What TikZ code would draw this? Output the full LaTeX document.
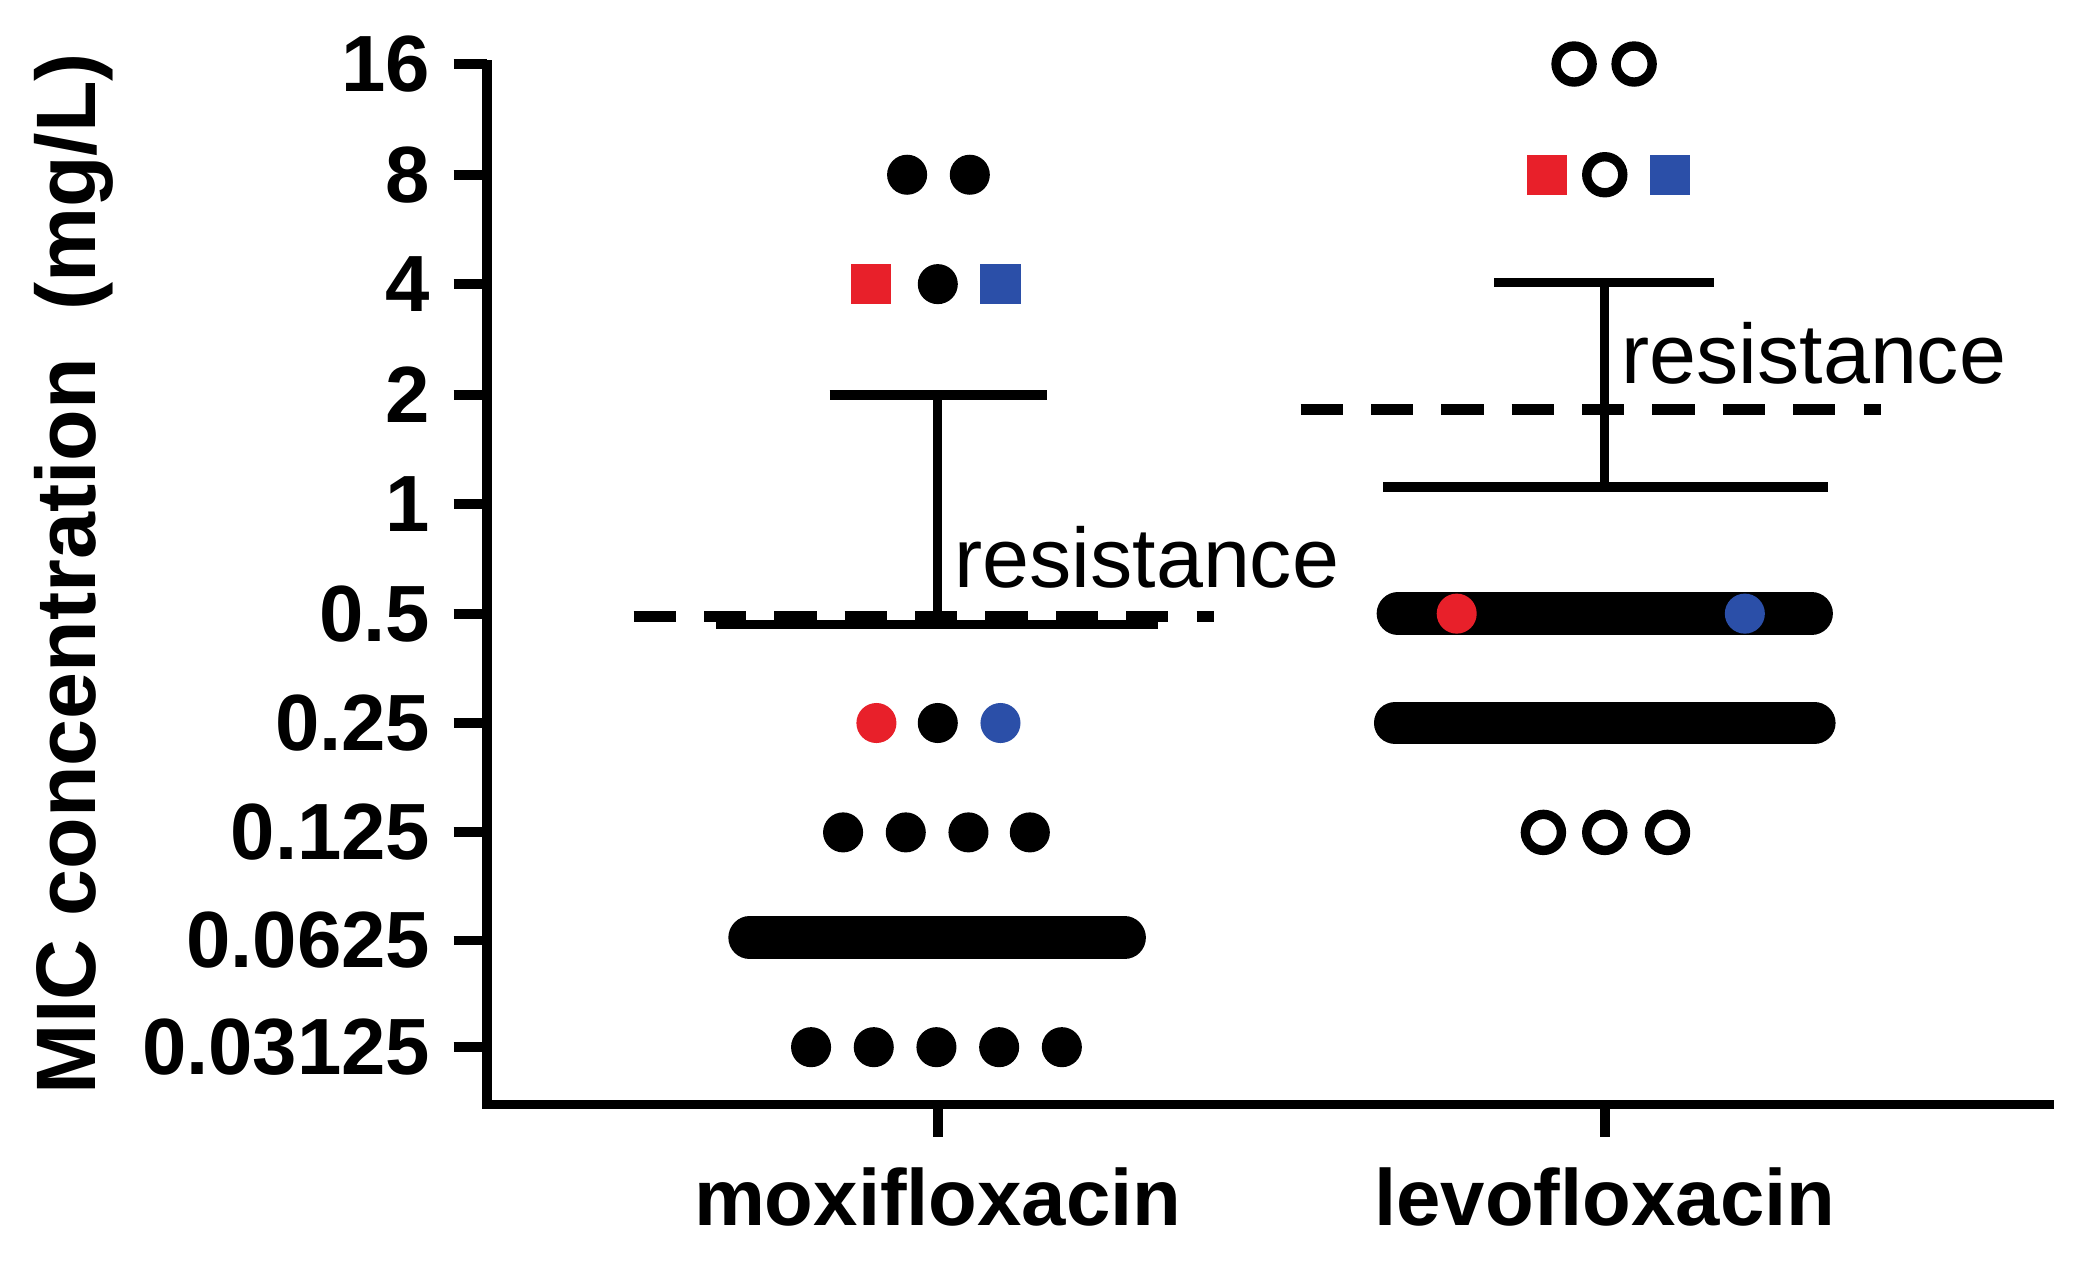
\documentclass[tikz,border=0pt]{standalone}
\usepackage{fontspec}
\setmainfont{Liberation Sans}
\definecolor{rd}{HTML}{E8202A}
\definecolor{bl}{HTML}{2B4FA8}
\begin{document}
\begin{tikzpicture}[x=0.01cm,y=-0.01cm,
  ax/.style={line width=2.1pt},
  bar/.style={line width=2pt},
  dsh/.style={line width=2.4pt,dash pattern=on 9pt off 6pt},
  dot/.style={circle,fill=black,inner sep=0pt,minimum size=0.3cm},
  odot/.style={circle,draw=black,line width=2pt,fill=white,inner sep=0pt,minimum size=0.27cm},
  sq/.style={rectangle,inner sep=0pt,minimum size=0.3cm},
  band/.style={line width=0.32cm,line cap=round},
  tl/.style={anchor=east,font=\bfseries\fontsize{17}{17}\selectfont},
  xl/.style={anchor=center,font=\bfseries\fontsize{17}{17}\selectfont},
  res/.style={anchor=west,font=\fontsize{18}{18}\selectfont}]
\useasboundingbox (0,0) rectangle (1560,946);
% axes
\coordinate (o) at (365,828);
\coordinate (yt) at (365,45);
\coordinate (xe) at (1540,828);
\draw[ax] (yt) -- (o) -- (xe);
\foreach \v/\y in {16/48,8/131,4/213,2/296,1/378,0.5/460,0.25/542,0.125/624,0.0625/705,0.03125/785}{
  \draw[ax] (340,\y) -- (365,\y);
  \node[tl] at (335,\y) {\v};
}
\foreach \x in {703,1203}{\draw[ax] (\x,828) -- (\x,852);}
\node[xl] (lm) at (703,897) {moxifloxacin};
\node[xl] (ll) at (1203,897) {levofloxacin};
\node[rotate=90,font=\bfseries\fontsize{18}{18}\selectfont] (yl) at (55,430) {MIC concentration\ \ (mg/L)};
% moxifloxacin
\draw[bar] (703,296) -- (703,468);
\draw[bar] (622,296) -- (785,296);
\draw[bar] (537,468) -- (868,468);
\draw[dsh] (475,462) -- (910,462);
\node[res] (r1) at (703,418) {resistance};
\foreach \x in {680,727}{\node[dot] at (\x,131) {};}
\node[sq,fill=rd] at (653,213) {};
\node[dot] at (703,213) {};
\node[sq,fill=bl] at (750,213) {};
\node[dot,fill=rd] at (657,542) {};
\node[dot] at (703,542) {};
\node[dot,fill=bl] at (750,542) {};
\foreach \x in {632,679,726,772}{\node[dot] at (\x,624) {};}
\draw[band] (562,703) -- (843,703);
\foreach \x in {608,655,702,749,796}{\node[dot] at (\x,785) {};}
% levofloxacin
\draw[bar] (1203,212) -- (1203,365);
\draw[bar] (1120,212) -- (1285,212);
\draw[bar] (1037,365) -- (1370,365);
\draw[dsh] (975,307) -- (1410,307);
\node[res] (r2) at (1203,265) {resistance};
\foreach \x in {1180,1225}{\node[odot] at (\x,48) {};}
\node[sq,fill=rd] at (1160,131) {};
\node[odot] at (1203,131) {};
\node[sq,fill=bl] at (1252,131) {};
\draw[band] (1048,460) -- (1358,460);
\node[dot,fill=rd] at (1092,460) {};
\node[dot,fill=bl] at (1308,460) {};
\draw[band] (1046,542) -- (1360,542);
\foreach \x in {1157,1203,1250}{\node[odot] at (\x,624) {};}
\end{tikzpicture}
\end{document}
